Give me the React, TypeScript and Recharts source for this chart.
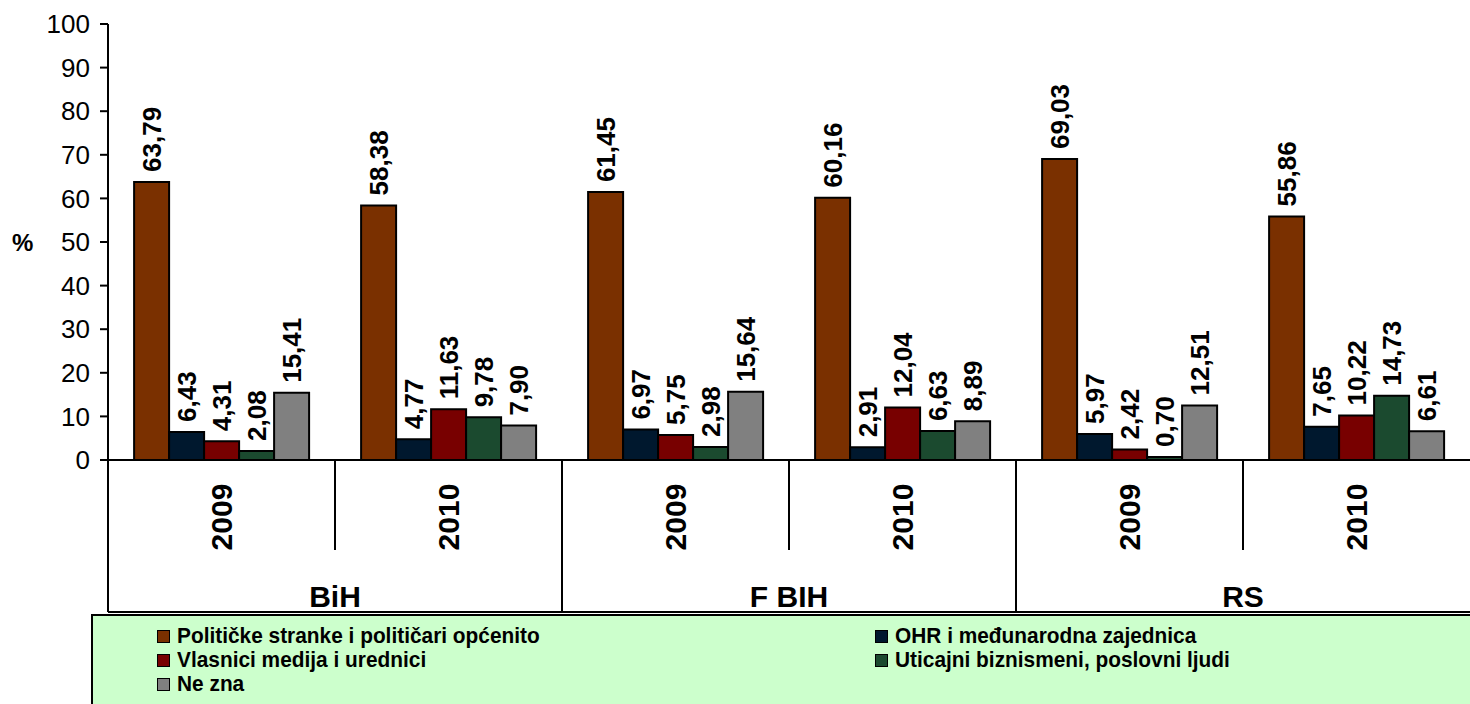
import React from "react";
import { BarChart, Bar, XAxis, YAxis, LabelList } from "recharts";

const years = ["2009", "2010", "2009", "2010", "2009", "2010"];
const regions = ["BiH", "BiH", "F BIH", "F BIH", "RS", "RS"];

const politicari = [63.79, 58.38, 61.45, 60.16, 69.03, 55.86];
const ohr = [6.43, 4.77, 6.97, 2.91, 5.97, 7.65];
const vlasnici = [4.31, 11.63, 5.75, 12.04, 2.42, 10.22];
const biznismeni = [2.08, 9.78, 2.98, 6.63, 0.7, 14.73];
const neZna = [15.41, 7.9, 15.64, 8.89, 12.51, 6.61];

const yTicks = [0, 10, 20, 30, 40, 50, 60, 70, 80, 90, 100];

const series = [
  { key: "politicari", name: "Političke stranke i političari općenito", color: "#7a3000", values: politicari },
  { key: "ohr", name: "OHR i međunarodna zajednica", color: "#00182e", values: ohr },
  { key: "vlasnici", name: "Vlasnici medija i urednici", color: "#780000", values: vlasnici },
  { key: "biznismeni", name: "Uticajni biznismeni, poslovni ljudi", color: "#1b4a2f", values: biznismeni },
  { key: "neZna", name: "Ne zna", color: "#808080", values: neZna },
];

// legend order in the reference: two columns, row by row
const legendOrder = ["politicari", "ohr", "vlasnici", "biznismeni", "neZna"];

const data = years.map((year, i) => {
  const row: Record<string, string | number> = { id: i, year, region: regions[i] };
  series.forEach((s) => (row[s.key] = s.values[i]));
  return row;
});

const FONT = '"Liberation Sans", Arial, sans-serif';
const AXIS_H = 154;

const fmt = (v: number) => v.toFixed(2).replace(".", ",");

function ValueLabel(props: any) {
  const { x, y, width, value } = props;
  const cx = x + width / 2;
  const cy = y - 10;
  return (
    <text
      x={cx}
      y={cy}
      transform={`rotate(-90, ${cx}, ${cy})`}
      textAnchor="start"
      dominantBaseline="central"
      fontFamily={FONT}
      fontWeight="bold"
      fontSize={26}
      fill="#000"
    >
      {fmt(Number(value))}
    </text>
  );
}

function CategoryTick(props: any) {
  const { x, y, index, payload, width, visibleTicksCount } = props;
  const band = (width ?? 1362) / (visibleTicksCount || 6);
  const left = x - band / 2;
  const right = x + band / 2;
  const isPairEnd = index % 2 === 1;
  const yc = y + 57;
  return (
    <g>
      {index === 0 && <line x1={left} y1={y} x2={left} y2={y + AXIS_H - 2} stroke="#000" strokeWidth={2} />}
      {index < (visibleTicksCount || 6) - 1 && (
        <line x1={right} y1={y} x2={right} y2={isPairEnd ? y + AXIS_H - 2 : y + 90} stroke="#000" strokeWidth={2} />
      )}
      <line x1={left} y1={y + AXIS_H - 2} x2={right} y2={y + AXIS_H - 2} stroke="#000" strokeWidth={2} />
      <text
        x={x}
        y={yc}
        transform={`rotate(-90, ${x}, ${yc})`}
        textAnchor="middle"
        dominantBaseline="central"
        fontFamily={FONT}
        fontWeight="bold"
        fontSize={30}
        fill="#000"
      >
        {payload.value}
      </text>
      {index % 2 === 0 && (
        <text
          x={right}
          y={y + 136}
          textAnchor="middle"
          dominantBaseline="central"
          fontFamily={FONT}
          fontWeight="bold"
          fontSize={30}
          fill="#000"
        >
          {regions[index]}
        </text>
      )}
    </g>
  );
}

export default function App() {
  return (
    <div style={{ position: "absolute", left: 0, top: 0, width: 1470, height: 704, background: "#fff", overflow: "hidden" }}>
      <BarChart
        width={1470}
        height={616}
        data={data}
        margin={{ top: 24, right: 0, left: 0, bottom: 2 }}
        barCategoryGap="11.5%"
        barGap={0}
      >
        <XAxis
          dataKey="year"
          height={AXIS_H}
          interval={0}
          tickLine={false}
          tickSize={0}
          tickMargin={0}
          axisLine={{ stroke: "#000", strokeWidth: 2 }}
          tick={<CategoryTick />}
        />
        <YAxis
          width={108}
          domain={[0, 100]}
          ticks={yTicks}
          interval={0}
          tickSize={8}
          tickMargin={10}
          axisLine={{ stroke: "#000", strokeWidth: 2 }}
          tickLine={{ stroke: "#000", strokeWidth: 2 }}
          tick={{ fill: "#000", fontSize: 26, fontFamily: FONT }}
          label={{
            value: "%",
            position: "insideLeft",
            offset: 12,
            style: { fill: "#000", fontSize: 24, fontWeight: "bold", fontFamily: FONT },
          }}
        />
        {series.map((s) => (
          <Bar key={s.key} dataKey={s.key} name={s.name} fill={s.color} stroke="#000" strokeWidth={2} isAnimationActive={false}>
            <LabelList dataKey={s.key} content={<ValueLabel />} />
          </Bar>
        ))}
      </BarChart>
      <div
        style={{
          position: "absolute",
          left: 91,
          top: 614,
          width: 1400,
          height: 92,
          background: "#ccffcc",
          borderTop: "2px solid #000",
          borderLeft: "2px solid #000",
          boxSizing: "border-box",
          fontFamily: FONT,
          fontWeight: "bold",
          fontSize: 21.5,
          lineHeight: "22px",
          color: "#000",
        }}
      >
        {legendOrder.map((k, i) => {
          const s = series.find((t) => t.key === k)!;
          const col = i % 2;
          const row = Math.floor(i / 2);
          return (
            <div
              key={k}
              style={{
                position: "absolute",
                left: col === 0 ? 64 : 782,
                top: 9 + row * 24,
                height: 22,
                display: "flex",
                alignItems: "center",
                whiteSpace: "nowrap",
              }}
            >
              <span
                style={{
                  display: "inline-block",
                  width: 11,
                  height: 11,
                  background: s.color,
                  border: "1.5px solid #000",
                  marginRight: 7,
                }}
              />
              <span style={{ display: "inline-block", transform: "scaleX(0.97)", transformOrigin: "left center" }}>
                {s.name}
              </span>
            </div>
          );
        })}
      </div>
    </div>
  );
}
